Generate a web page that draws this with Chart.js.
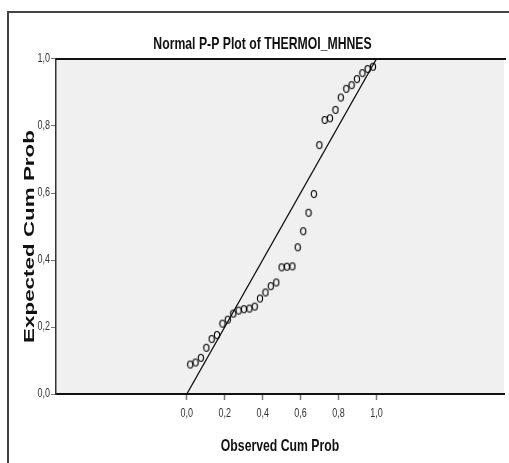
<!DOCTYPE html>
<html>
<head>
<meta charset="utf-8">
<script src="https://cdn.jsdelivr.net/npm/chart.js@4/dist/chart.umd.min.js"></script>
<style>
html,body{margin:0;padding:0;background:#fff;}
#wrap{width:509px;height:463px;position:relative;}
</style>
</head>
<body>
<div id="wrap"><canvas id="c" width="509" height="463"></canvas></div>
<script>
// ---- data ----
const chartTitle = 'Normal P-P Plot of THERMOI_MHNES';
const xAxisTitle = 'Observed Cum Prob';
const yAxisTitle = 'Expected Cum Prob';
const observedCumProb = [0.018, 0.046, 0.074, 0.103, 0.131, 0.159, 0.188, 0.216, 0.245, 0.273,
  0.301, 0.330, 0.358, 0.386, 0.415, 0.443, 0.472, 0.500, 0.528, 0.557,
  0.585, 0.614, 0.642, 0.670, 0.699, 0.727, 0.755, 0.784, 0.812, 0.841,
  0.869, 0.897, 0.926, 0.954, 0.982];
const expectedCumProb = [0.088, 0.094, 0.108, 0.138, 0.164, 0.176, 0.210, 0.222, 0.240, 0.249,
  0.253, 0.255, 0.261, 0.285, 0.303, 0.322, 0.333, 0.378, 0.380, 0.381,
  0.438, 0.486, 0.541, 0.597, 0.743, 0.818, 0.823, 0.848, 0.885, 0.911,
  0.922, 0.940, 0.958, 0.970, 0.977];
const refLineX = [0, 1];
const refLineY = [0, 1];
const xTicks = [0, 0.2, 0.4, 0.6, 0.8, 1.0];
const yTicks = [0, 0.2, 0.4, 0.6, 0.8, 1.0];
const xRange = [-0.690, 1.673];
const yRange = [0, 1];

// ---- styling ----
const fam = "'Liberation Sans',Arial,sans-serif";
const fmt = v => v.toFixed(1).replace('.', ',');
// the reference is anisotropic: horizontal text is condensed, vertical text stretched
const H_SCALE = 0.72;
const V_SCALE = 1.6;
const V_SHIFT = 10; // px downward shift of the rotated axis title

const canvas = document.getElementById('c');
const ctx0 = canvas.getContext('2d');
const origFill = ctx0.fillText;
ctx0.fillText = function (t, x, y) {
  this.save();
  this.translate(x, y);
  const m = this.getTransform();
  if (Math.abs(m.b) > 0.5) {          // rotated text (y axis title)
    this.translate(-V_SHIFT, 0);
    this.scale(V_SCALE, 1);
  } else {
    this.scale(H_SCALE, 1);
  }
  origFill.call(this, t, 0, 0);
  this.restore();
};

// hollow ellipse marker
const marker = document.createElement('canvas');
marker.width = 8; marker.height = 10;
(function(){
  const m = marker.getContext('2d');
  m.strokeStyle = '#000';
  m.lineWidth = 1.15;
  m.beginPath();
  m.ellipse(4, 5, 2.6, 3.5, 0, 0, Math.PI * 2);
  m.stroke();
})();

const framePlugin = {
  id: 'frame',
  beforeDraw(chart) {
    const {ctx, chartArea: a} = chart;
    ctx.save();
    ctx.fillStyle = '#fff';
    ctx.fillRect(0, 0, chart.width, chart.height);
    ctx.strokeStyle = '#444';
    ctx.lineWidth = 2;
    ctx.beginPath();
    ctx.moveTo(8, chart.height + 2);
    ctx.lineTo(8, 12);
    ctx.lineTo(chart.width + 2, 12);
    ctx.stroke();
    ctx.fillStyle = '#f0f0f0';
    ctx.fillRect(a.left, a.top, a.right - a.left, a.bottom - a.top);
    ctx.restore();
  },
  afterDraw(chart) {
    const {ctx, chartArea: a} = chart;
    ctx.save();
    ctx.strokeStyle = '#111';
    ctx.lineWidth = 2;
    ctx.beginPath();
    ctx.moveTo(a.left, a.top);
    ctx.lineTo(a.right + 2, a.top);
    ctx.stroke();
    ctx.restore();
  }
};

new Chart(canvas, {
  type: 'scatter',
  data: {
    datasets: [
      {
        type: 'line',
        data: refLineX.map((x, i) => ({x, y: refLineY[i]})),
        borderColor: '#111',
        borderWidth: 1.3,
        pointRadius: 0,
        fill: false,
        order: 2
      },
      {
        data: observedCumProb.map((x, i) => ({x, y: expectedCumProb[i]})),
        pointStyle: marker,
        pointRadius: 4,
        order: 1
      }
    ]
  },
  plugins: [framePlugin],
  options: {
    responsive: false,
    animation: false,
    devicePixelRatio: 1,
    layout: {padding: {left: 16, right: 0, top: 0, bottom: 0}},
    plugins: {
      legend: {display: false},
      tooltip: {enabled: false},
      title: {
        display: true,
        text: chartTitle,
        color: '#111',
        font: {family: fam, size: 17, weight: 'bold', lineHeight: 1.2},
        padding: {top: 33.8, bottom: 4.8}
      }
    },
    scales: {
      x: {
        type: 'linear',
        min: xRange[0], max: xRange[1],
        afterBuildTicks: s => { s.ticks = xTicks.map(v => ({value: v})); },
        afterFit: s => { s.height = 69; },
        ticks: {
          callback: v => fmt(v),
          color: '#333',
          font: {family: fam, size: 12.5},
          padding: 6,
          maxRotation: 0,
          autoSkip: false
        },
        grid: {drawOnChartArea: false, color: '#777', tickLength: 6, tickWidth: 1.5},
        border: {color: '#111', width: 2},
        title: {
          display: true,
          text: xAxisTitle,
          color: '#111',
          font: {family: fam, size: 17, weight: 'bold', lineHeight: 1.2},
          padding: {top: 0, bottom: 6}
        }
      },
      y: {
        type: 'linear',
        min: yRange[0], max: yRange[1],
        afterBuildTicks: s => { s.ticks = yTicks.map(v => ({value: v})); },
        afterFit: s => { s.width = 40; },
        ticks: {
          callback: v => fmt(v),
          color: '#333',
          font: {family: fam, size: 12.5},
          padding: 1,
          autoSkip: false
        },
        grid: {drawOnChartArea: false, color: '#777', tickLength: 5, tickWidth: 1},
        border: {color: '#333', width: 1.5},
        title: {
          display: true,
          text: yAxisTitle,
          color: '#111',
          font: {family: fam, size: 14, weight: 'bold', lineHeight: 1.2},
          padding: {top: 5.6, bottom: 0}
        }
      }
    }
  }
});
</script>
</body>
</html>
